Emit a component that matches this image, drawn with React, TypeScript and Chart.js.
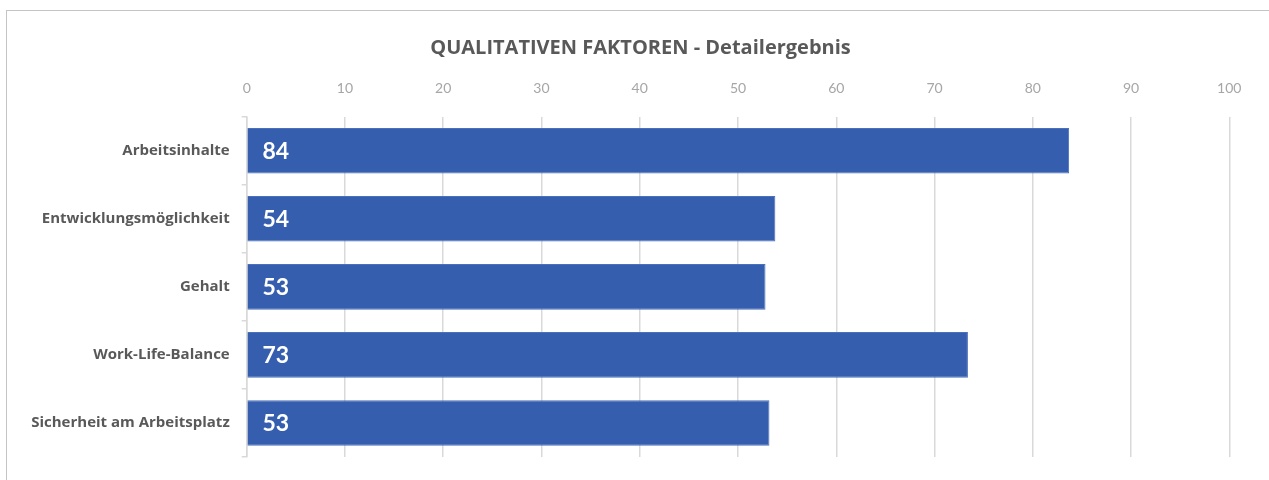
import React, { useEffect, useRef } from "react";
import { Chart, registerables } from "chart.js";

Chart.register(...registerables);

const categories = [
  "Arbeitsinhalte",
  "Entwicklungsmöglichkeit",
  "Gehalt",
  "Work-Life-Balance",
  "Sicherheit am Arbeitsplatz",
];
const values = [83.7, 53.8, 52.8, 73.4, 53.2];
const xTicks = [0, 10, 20, 30, 40, 50, 60, 70, 80, 90, 100];
const titleText = "QUALITATIVEN FAKTOREN - Detailergebnis";

const FONT = "Lato, 'Open Sans', sans-serif";
const FONT2 = "'Open Sans', Lato, sans-serif";

const barLabelPlugin = {
  id: "barLabels",
  afterDatasetsDraw(chart: any) {
    const ctx = chart.ctx;
    const meta = chart.getDatasetMeta(0);
    ctx.save();
    ctx.fillStyle = "#ffffff";
    ctx.font = `bold 23px ${FONT}`;
    ctx.textAlign = "left";
    ctx.textBaseline = "middle";
    meta.data.forEach((bar: any, i: number) => {
      const v = chart.data.datasets[0].data[i] as number;
      ctx.fillText(String(Math.round(v)), bar.base + 15, bar.y + 1);
    });
    ctx.restore();
  },
};

const titlePlugin = {
  id: "customTitle",
  afterDraw(chart: any) {
    const ctx = chart.ctx;
    ctx.save();
    ctx.fillStyle = "#595959";
    ctx.font = `bold 20px ${FONT2}`;
    ctx.textAlign = "center";
    ctx.textBaseline = "middle";
    ctx.fillText(titleText, 633.5, 37);
    ctx.restore();
  },
};

export default function App() {
  const ref = useRef<HTMLCanvasElement | null>(null);

  useEffect(() => {
    if (!ref.current) return;
    const chart = new Chart(ref.current, {
      type: "bar",
      data: {
        labels: categories,
        datasets: [
          {
            data: values,
            backgroundColor: "#365EAE",
            borderColor: "#4a6fbb",
            borderWidth: 1,
            categoryPercentage: 0.67,
            barPercentage: 1,
          },
        ],
      },
      options: {
        indexAxis: "y",
        animation: false,
        responsive: false,
        maintainAspectRatio: false,
        layout: { padding: { left: 0, right: 39.7, top: 56.7, bottom: 23 } },
        plugins: {
          legend: { display: false },
          tooltip: { enabled: false },
          title: { display: false },
        },
        scales: {
          x: {
            position: "top",
            min: 0,
            max: 100,
            afterBuildTicks(scale: any) {
              scale.ticks = xTicks.map((v) => ({ value: v }));
            },
            afterFit(scale: any) {
              scale.height = 49;
            },
            grid: {
              color: "#d9d9d9",
              lineWidth: 1.5,
              drawTicks: false,
            },
            border: { display: false },
            ticks: {
              color: "#a6a6a6",
              padding: 20,
              font: { family: FONT, size: 14 },
            },
          },
          y: {
            afterFit(scale: any) {
              scale.width = 239.7;
            },
            grid: {
              display: true,
              drawOnChartArea: false,
              drawTicks: true,
              tickLength: 5,
              color: "#d9d9d9",
              lineWidth: 1.5,
            },
            border: { display: true, color: "#d9d9d9", width: 1.5 },
            ticks: {
              color: "#595959",
              padding: 12,
              font: { family: FONT2, size: 15, weight: "bold" },
            },
          },
        },
      },
      plugins: [barLabelPlugin, titlePlugin],
    });
    return () => chart.destroy();
  }, []);

  return (
    <div
      style={{
        position: "fixed",
        left: 6,
        top: 10,
        width: 1263,
        height: 470,
        borderTop: "1px solid #c4c4c4",
        borderLeft: "1px solid #c4c4c4",
        background: "#ffffff",
        boxSizing: "border-box",
      }}
    >
      <canvas ref={ref} width={1262} height={469} style={{ display: "block" }} />
    </div>
  );
}
